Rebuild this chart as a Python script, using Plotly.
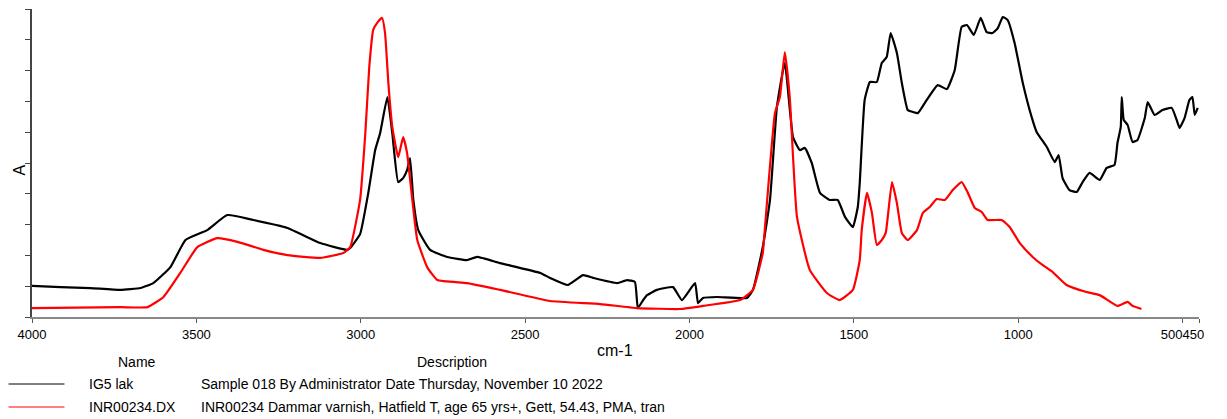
import plotly.graph_objects as go

# ---------------- data ----------------
series_names = ["IG5 lak", "INR00234.DX"]
series_descriptions = [
    "Sample 018 By Administrator Date Thursday, November 10 2022",
    "INR00234 Dammar varnish, Hatfield T, age 65 yrs+, Gett, 54.43, PMA, tran",
]
series_colors = ["#000000", "#ff0000"]

ig5_wn = [4000, 3913, 3822, 3731, 3670, 3631, 3579, 3533, 3467, 3406, 3327, 3223, 3123, 3041, 3032,
          3002, 2977, 2956, 2941, 2919, 2904, 2886, 2871, 2859, 2850, 2840, 2825, 2789, 2737, 2676,
          2646, 2576, 2454, 2424, 2370, 2324, 2293, 2220, 2190, 2166, 2157, 2141, 2129, 2099, 2050,
          2023, 1983, 1974, 1959, 1916, 1825, 1807, 1777, 1755, 1734, 1710, 1685, 1664, 1649, 1628,
          1603, 1573, 1549, 1527, 1503, 1488, 1482, 1467, 1451, 1430, 1415, 1400, 1388, 1369, 1354,
          1336, 1321, 1305, 1278, 1245, 1217, 1193, 1172, 1156, 1135, 1114, 1096, 1078, 1062, 1047,
          1032, 1011, 986, 959, 944, 913, 889, 877, 865, 844, 822, 804, 783, 752, 731, 707, 698, 688,
          685, 679, 667, 652, 637, 615, 606, 585, 561, 533, 518, 509, 494, 479, 470, 463, 454]
ig5_abs = [0.101, 0.097, 0.094, 0.088, 0.094, 0.110, 0.162, 0.250, 0.282, 0.331, 0.315, 0.289, 0.240,
           0.218, 0.224, 0.269, 0.403, 0.542, 0.597, 0.714, 0.597, 0.438, 0.451, 0.477, 0.516, 0.380,
           0.282, 0.218, 0.195, 0.185, 0.195, 0.175, 0.143, 0.127, 0.104, 0.136, 0.127, 0.110, 0.120,
           0.114, 0.029, 0.055, 0.071, 0.088, 0.097, 0.055, 0.110, 0.045, 0.062, 0.065, 0.062, 0.088,
           0.227, 0.380, 0.682, 0.825, 0.584, 0.542, 0.549, 0.500, 0.403, 0.380, 0.380, 0.325, 0.292,
           0.357, 0.435, 0.705, 0.763, 0.763, 0.825, 0.844, 0.922, 0.857, 0.760, 0.672, 0.666, 0.662,
           0.705, 0.753, 0.740, 0.802, 0.942, 0.948, 0.916, 0.971, 0.925, 0.922, 0.938, 0.974, 0.964,
           0.890, 0.760, 0.649, 0.601, 0.552, 0.503, 0.526, 0.451, 0.412, 0.406, 0.438, 0.468, 0.445,
           0.484, 0.494, 0.565, 0.617, 0.714, 0.640, 0.623, 0.568, 0.575, 0.646, 0.698, 0.656, 0.672,
           0.679, 0.640, 0.614, 0.646, 0.705, 0.714, 0.656, 0.679]

inr_wn = [4000, 3731, 3649, 3600, 3549, 3497, 3436, 3375, 3296, 3223, 3123, 3053, 3032, 3002, 2986,
          2974, 2962, 2950, 2935, 2926, 2916, 2904, 2886, 2871, 2859, 2843, 2828, 2798, 2767, 2676,
          2576, 2424, 2272, 2160, 2029, 1959, 1846, 1807, 1777, 1771, 1740, 1725, 1710, 1695, 1673,
          1634, 1582, 1543, 1503, 1482, 1476, 1460, 1445, 1430, 1415, 1403, 1384, 1369, 1354, 1336,
          1308, 1290, 1269, 1248, 1223, 1199, 1172, 1153, 1132, 1111, 1093, 1050, 1026, 995, 956,
          926, 895, 853, 792, 752, 698, 667, 652, 625]
inr_abs = [0.029, 0.032, 0.032, 0.065, 0.143, 0.227, 0.256, 0.244, 0.218, 0.201, 0.192, 0.208, 0.227,
           0.380, 0.597, 0.812, 0.932, 0.955, 0.971, 0.922, 0.760, 0.617, 0.519, 0.584, 0.532, 0.380,
           0.250, 0.162, 0.120, 0.110, 0.088, 0.052, 0.042, 0.029, 0.026, 0.036, 0.055, 0.088, 0.208,
           0.282, 0.662, 0.714, 0.860, 0.714, 0.325, 0.153, 0.078, 0.055, 0.088, 0.185, 0.282, 0.403,
           0.338, 0.234, 0.250, 0.273, 0.438, 0.370, 0.273, 0.250, 0.282, 0.338, 0.357, 0.383, 0.380,
           0.412, 0.438, 0.403, 0.354, 0.341, 0.315, 0.315, 0.292, 0.240, 0.195, 0.169, 0.146, 0.104,
           0.081, 0.071, 0.036, 0.049, 0.036, 0.026]

x_tick_vals = [4000, 3500, 3000, 2500, 2000, 1500, 1000, 500, 450]
x_tick_text = ["4000", "3500", "3000", "2500", "2000", "1500", "1000", "500450", ""]
y_tick_vals = [i / 10 for i in range(11)]
x_title = "cm-1"
y_title = "A"
legend_headers = ["Name", "Description"]

# ---------------- figure ----------------
W, H = 1227, 419
L, R, T, B = 31.5, 27.5, 9, 102
PW, PH = W - L - R, H - T - B
FONT = "Liberation Sans, Arial, sans-serif"


def px_x(p):
    return (p - L) / PW


def px_y(p):
    return (H - B - p) / PH


fig = go.Figure()
for wn, ab, name, col in [(ig5_wn, ig5_abs, series_names[0], series_colors[0]),
                          (inr_wn, inr_abs, series_names[1], series_colors[1])]:
    fig.add_trace(go.Scatter(x=wn, y=ab, mode="lines", name=name,
                             line=dict(color=col, width=2.2, shape="spline", smoothing=0.4),
                             showlegend=False, hoverinfo="skip"))

fig.update_layout(
    width=W, height=H,
    margin=dict(l=L, r=R, t=T, b=B, pad=0),
    paper_bgcolor="white", plot_bgcolor="white",
    font=dict(family=FONT, color="black", size=13),
)
fig.update_xaxes(range=[4000, 450], showgrid=False, zeroline=False,
                 showline=True, linecolor="#888888", linewidth=2,
                 ticks="outside", ticklen=4, tickcolor="#555555", tickwidth=1,
                 tickvals=x_tick_vals, ticktext=x_tick_text,
                 tickfont=dict(family=FONT, size=13, color="black"))
fig.update_yaxes(range=[0, 1], showgrid=False, zeroline=False,
                 showline=True, linecolor="#444444", linewidth=1.5,
                 ticks="outside", ticklen=5, tickcolor="#444444", tickwidth=1,
                 tickvals=y_tick_vals, showticklabels=False)

ann = []
ann.append(dict(text=x_title, x=px_x(615), y=px_y(350), xref="paper", yref="paper",
                showarrow=False, font=dict(size=16), xanchor="center", yanchor="middle"))
ann.append(dict(text=y_title, x=px_x(18), y=px_y(170), xref="paper", yref="paper",
                showarrow=False, font=dict(size=16), textangle=-90,
                xanchor="center", yanchor="middle"))
ann.append(dict(text=legend_headers[0], x=px_x(137), y=px_y(362), xref="paper", yref="paper",
                showarrow=False, font=dict(size=14), xanchor="center", yanchor="middle"))
ann.append(dict(text=legend_headers[1], x=px_x(452), y=px_y(362), xref="paper", yref="paper",
                showarrow=False, font=dict(size=14), xanchor="center", yanchor="middle"))
row_y = [384, 407]
shapes = []
for i in range(2):
    ann.append(dict(text=series_names[i], x=px_x(87), y=px_y(row_y[i]), xref="paper", yref="paper",
                    showarrow=False, font=dict(size=14), xanchor="left", yanchor="middle"))
    ann.append(dict(text=series_descriptions[i], x=px_x(199), y=px_y(row_y[i]), xref="paper",
                    yref="paper", showarrow=False, font=dict(size=14), xanchor="left",
                    yanchor="middle"))
    shapes.append(dict(type="line", xref="paper", yref="paper",
                       x0=px_x(8), x1=px_x(64), y0=px_y(row_y[i]), y1=px_y(row_y[i]),
                       line=dict(color=series_colors[i], width=1)))
fig.update_layout(annotations=ann, shapes=shapes)

fig.write_html("out.html", config={"displayModeBar": False},
               post_script="document.body.style.margin='0';document.body.style.padding='0';")
